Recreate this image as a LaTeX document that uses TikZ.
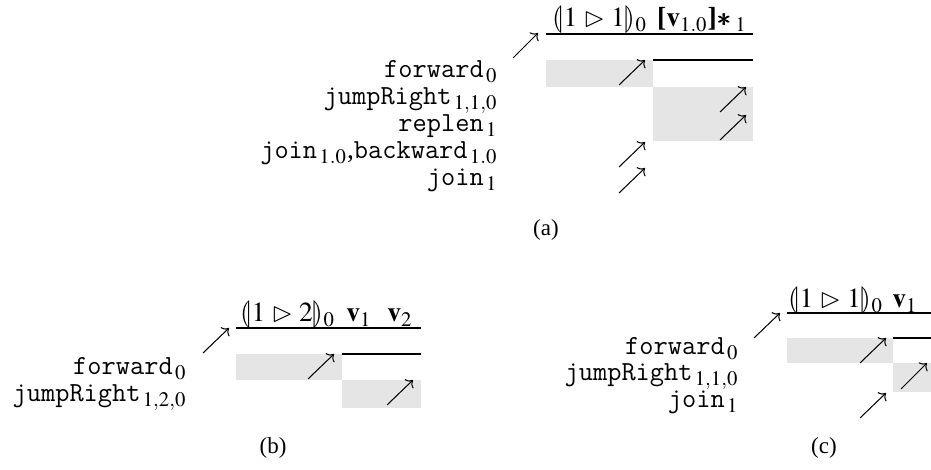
\documentclass[tikz,border=0pt]{standalone}
\usepackage{amsmath}
\usepackage{amssymb}
\usepackage{stmaryrd}
\usepackage{mathptmx}
\usepackage[no-math]{fontspec}
\setmainfont{Liberation Serif}
\setmonofont{Latin Modern Mono}[Scale=1.0]
\usetikzlibrary{arrows.meta}

\begin{document}
\begin{tikzpicture}[x=0.4348pt, y=-0.4348pt, >={Computer Modern Rightarrow},
    font=\fontsize{12}{14}\selectfont,
    lbl/.style={anchor=base east, inner sep=0pt},
    hdr/.style={anchor=base, inner sep=0pt},
    subcap/.style={inner sep=0pt, font=\fontsize{10}{12}\selectfont},
    shade/.style={fill=black!10},
    rule/.style={line width=0.45pt},
    upar/.style={->, line width=0.45pt}]
      \useasboundingbox (0,0) rectangle (931,470);

      % (a)
      \fill[shade] (546,60) rectangle (653,87);
      \fill[shade] (653,87) rectangle (753,141);
      \draw[rule] (546,34) -- (753,34);
      \draw[rule] (653,60) -- (753,60);
      \node[hdr] (ha1) at (600,27) {$\llparenthesis 1 \mathrel{\rhd} 1 \rrparenthesis_0$};
      \node[hdr] (ha2) at (702,27) {$\text{\bfseries[}\mathbf{v}_{1.0}\text{\bfseries]}\!\pmb{\ast}_1$};

      \node[lbl] (afwd) at (498,78) {\texttt{forward}\kern1pt$_0$};
      \node[lbl] (ajmp) at (498,105) {\texttt{jumpRight}\kern1pt$_{1,1,0}$};
      \node[lbl] (arep) at (498,132) {\texttt{replen}\kern1pt$_1$};
      \node[lbl] (ajb) at (498,159) {\texttt{join}\kern1pt$_{1.0}$,\texttt{backward}\kern1pt$_{1.0}$};
      \node[lbl] (ajoin) at (498,186) {\texttt{join}\kern1pt$_1$};

      \draw[upar] (513,58) -- (538,33);
      \draw[upar] (619,85) -- (645,60);
      \draw[upar] (720,112) -- (746,87);
      \draw[upar] (720,140) -- (746,115);
      \draw[upar] (619,167) -- (645,142);
      \draw[upar] (619,193) -- (645,168);

      \node[subcap] (capa) at (546,230) {(a)};

      % (b)
      \fill[shade] (236,354) rectangle (342,380);
      \fill[shade] (342,380) rectangle (421,408);
      \draw[rule] (236,328) -- (421,328);
      \draw[rule] (342,354) -- (421,354);
      \node[hdr] (hb1) at (288,322) {$\llparenthesis 1 \mathrel{\rhd} 2 \rrparenthesis_0$};
      \node[hdr] (hb2) at (359,322) {$\mathbf{v}_1$};
      \node[hdr] (hb3) at (400,322) {$\mathbf{v}_2$};

      \node[lbl] (bfwd) at (187,375) {\texttt{forward}\kern1pt$_0$};
      \node[lbl] (bjmp) at (187,402) {\texttt{jumpRight}\kern1pt$_{1,2,0}$};

      \draw[upar] (203,353) -- (229,328);
      \draw[upar] (308,379) -- (334,354);
      \draw[upar] (387,405) -- (413,380);

      \node[subcap] (capb) at (273,448) {(b)};

      % (c)
      \fill[shade] (787,338) rectangle (893,363);
      \fill[shade] (893,363) rectangle (935,392);
      \draw[rule] (787,313) -- (935,313);
      \draw[rule] (893,338) -- (935,338);
      \node[hdr] (hc1) at (836,308) {$\llparenthesis 1 \mathrel{\rhd} 1 \rrparenthesis_0$};
      \node[hdr] (hc2) at (905,308) {$\mathbf{v}_1$};

      \node[lbl] (cfwd) at (739,355) {\texttt{forward}\kern1pt$_0$};
      \node[lbl] (cjmp) at (739,381) {\texttt{jumpRight}\kern1pt$_{1,1,0}$};
      \node[lbl] (cjoin) at (739,408) {\texttt{join}\kern1pt$_1$};

      \draw[upar] (754,338) -- (780,313);
      \draw[upar] (860,363) -- (886,338);
      \draw[upar] (901,389) -- (927,363);
      \draw[upar] (860,418) -- (886,393);

      \node[subcap] (capc) at (824,448) {(c)};
    \end{tikzpicture}
\end{document}
